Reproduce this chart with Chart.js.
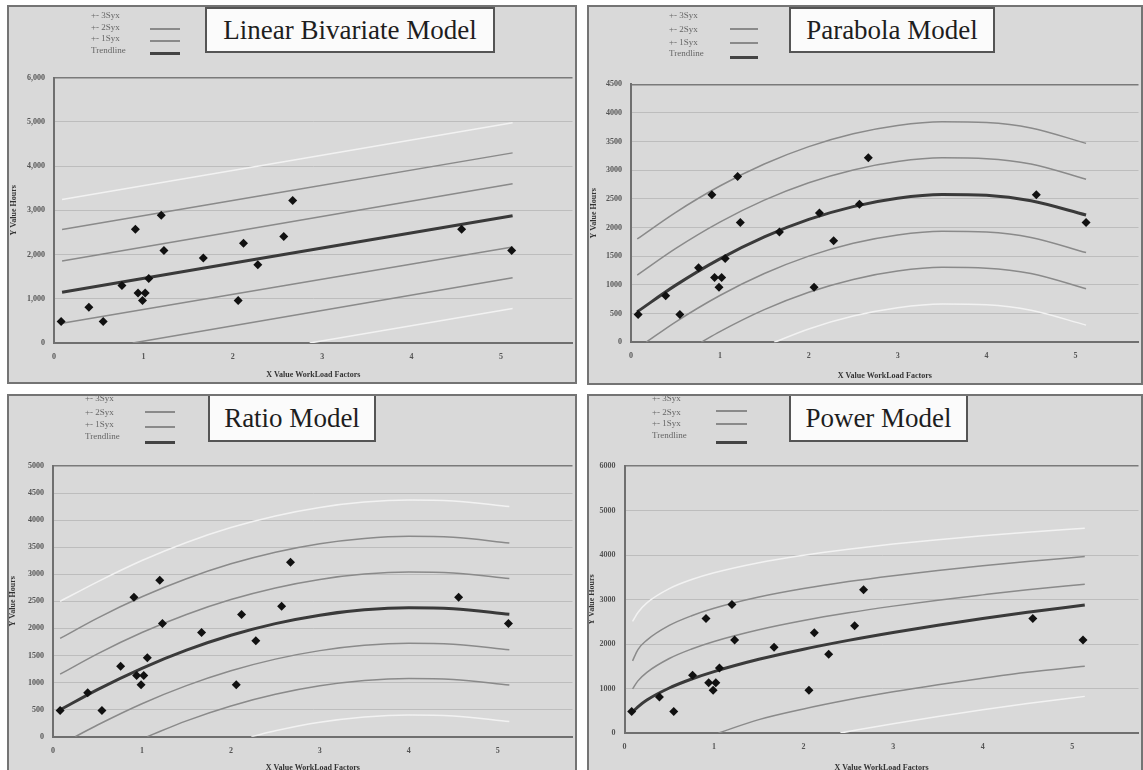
<!DOCTYPE html>
<html><head><meta charset="utf-8">
<script src="https://cdn.jsdelivr.net/npm/chart.js@4.4.0/dist/chart.umd.min.js"></script>
<style>
html,body{margin:0;padding:0;background:#fff;width:1143px;height:770px;overflow:hidden;font-family:"Liberation Serif","Times New Roman",serif}
.panel{position:absolute;overflow:hidden;background:#d9d9d9}
.panel canvas{position:absolute;left:0;top:0}
.frame{position:absolute;left:0;top:0;right:0;bottom:0;border:2px solid #747474;pointer-events:none}
.tbox{position:absolute;background:#fbfbfb;border:2px solid #555;box-sizing:border-box;font-size:27px;color:#1e1e1e;text-align:center;white-space:nowrap}
.leg{position:absolute;font-size:9px;color:#666;line-height:10px;white-space:nowrap}
.lsamp{position:absolute}
</style>
</head><body>
<script>
// ---------- shared data ----------
const xTickValues = [0, 1, 2, 3, 4, 5];
const xTickLabels = ['0', '1', '2', '3', '4', '5'];
const obsX = [0.08, 0.39, 0.55, 0.76, 0.91, 0.94, 1.02, 0.99, 1.06, 1.2, 1.23, 1.67, 2.06, 2.12, 2.28, 2.57, 2.67, 4.56, 5.12];
const obsY = [485, 810, 485, 1300, 2575, 1130, 1130, 960, 1460, 2890, 2090, 1925, 960, 2255, 1770, 2410, 3220, 2575, 2090];
const legendLabels = ['+- 3Syx', '+- 2Syx', '+- 1Syx', 'Trendline'];
const xTitle = 'X Value WorkLoad Factors';
const yTitle = 'Y Value Hours';

// ---------- Linear Bivariate Model ----------
const linTicksY = [0, 1000, 2000, 3000, 4000, 5000, 6000];
const linTickLabels = ['0', '1,000', '2,000', '3,000', '4,000', '5,000', '6,000'];
const linX = [0.09, 5.13];
const linTrend = [1147, 2880];
const linUp1 = [1855, 3600];
const linUp2 = [2567, 4300];
const linUp3 = [3247, 4980];
const linLo1 = [445, 2170];
const linLo2X = [0.88, 5.13];
const linLo2 = [0, 1475];
const linLo3X = [2.86, 5.13];
const linLo3 = [0, 780];

// ---------- Parabola Model ----------
const parTicksY = [0, 500, 1000, 1500, 2000, 2500, 3000, 3500, 4000, 4500];
const parTickLabels = ['0', '500', '1000', '1500', '2000', '2500', '3000', '3500', '4000', '4500'];
const parX = [0.07, 0.5, 1, 1.5, 2, 2.5, 3, 3.5, 4, 4.5, 5.12];
const parTrend = [532, 993, 1456, 1839, 2143, 2367, 2512, 2577, 2563, 2469, 2220];
const parUp1 = [1172, 1633, 2096, 2479, 2783, 3007, 3152, 3217, 3203, 3109, 2845];
const parUp2 = [1802, 2263, 2726, 3109, 3413, 3637, 3782, 3847, 3833, 3739, 3470];
const parLo1X = [0.17, 0.5, 1, 1.5, 2, 2.5, 3, 3.5, 4, 4.5, 5.12];
const parLo1 = [0, 353, 816, 1199, 1503, 1727, 1872, 1937, 1923, 1829, 1565];
const parLo2X = [0.79, 1, 1.5, 2, 2.5, 3, 3.5, 4, 4.5, 5.12];
const parLo2 = [0, 186, 569, 873, 1097, 1242, 1307, 1293, 1199, 935];
const parLo3X = [1.61, 2, 2.5, 3, 3.5, 4, 4.5, 5.12];
const parLo3 = [0, 233, 457, 602, 667, 653, 559, 300];

// ---------- Ratio Model ----------
const ratTicksY = [0, 500, 1000, 1500, 2000, 2500, 3000, 3500, 4000, 4500, 5000];
const ratTickLabels = ['0', '500', '1000', '1500', '2000', '2500', '3000', '3500', '4000', '4500', '5000'];
const ratX = [0.08, 0.5, 1, 1.5, 2, 2.5, 3, 3.5, 4, 4.5, 5.13];
const ratTrend = [495, 871, 1264, 1598, 1873, 2088, 2245, 2343, 2382, 2362, 2260];
const ratUp1 = [1155, 1531, 1924, 2258, 2533, 2748, 2905, 3003, 3042, 3022, 2920];
const ratUp2 = [1815, 2191, 2584, 2918, 3193, 3408, 3565, 3663, 3702, 3682, 3580];
const ratUp3 = [2500, 2861, 3254, 3588, 3863, 4078, 4235, 4333, 4372, 4352, 4250];
const ratLo1X = [0.25, 0.5, 1, 1.5, 2, 2.5, 3, 3.5, 4, 4.5, 5.13];
const ratLo1 = [0, 216, 609, 943, 1218, 1433, 1590, 1688, 1727, 1707, 1605];
const ratLo2X = [1.06, 1.5, 2, 2.5, 3, 3.5, 4, 4.5, 5.13];
const ratLo2 = [0, 293, 568, 783, 940, 1038, 1077, 1057, 955];
const ratLo3X = [2.23, 2.5, 3, 3.5, 4, 4.5, 5.13];
const ratLo3 = [0, 108, 265, 363, 402, 382, 280];

// ---------- Power Model ----------
const powTicksY = [0, 1000, 2000, 3000, 4000, 5000, 6000];
const powTickLabels = ['0', '1000', '2000', '3000', '4000', '5000', '6000'];
const powX = [0.09, 0.15, 0.25, 0.5, 0.75, 1, 1.5, 2, 2.5, 3, 3.5, 4, 4.5, 5.14];
const powTrend = [468, 589, 741, 1011, 1213, 1380, 1656, 1884, 2082, 2260, 2422, 2571, 2711, 2878];
const powUp1 = [990, 1171, 1363, 1674, 1888, 2057, 2320, 2528, 2701, 2851, 2985, 3104, 3217, 3343];
const powUp2 = [1620, 1875, 2088, 2418, 2636, 2802, 3054, 3245, 3402, 3536, 3654, 3758, 3855, 3966];
const powUp3 = [2509, 2708, 2924, 3244, 3448, 3600, 3827, 3996, 4130, 4245, 4345, 4432, 4511, 4600];
const powLo1X = [1.05, 1.5, 2, 2.5, 3, 3.5, 4, 4.5, 5.14];
const powLo1 = [0, 300, 540, 745, 925, 1085, 1230, 1365, 1500];
const powLo3X = [2.41, 3, 3.5, 4, 4.5, 5.14];
const powLo3 = [0, 210, 372, 521, 661, 823];

// ---------- styles ----------
const SERIF = '"Liberation Serif", "Times New Roman", serif';
const C_TREND = '#3a3a3a', C_GRAY = '#8a8a8a', C_WHITE = '#f2f2f2';

function pts(xs, ys) { return xs.map((x, i) => ({ x: x, y: ys[i] })); }
function curve(xs, ys, color, w) {
  return { type: 'scatter', data: pts(xs, ys), showLine: true, borderColor: color, borderWidth: w,
    pointRadius: 0, fill: false, cubicInterpolationMode: 'monotone' };
}

function makePanel(p) {
  const [bx, by, bw, bh] = p.box;
  const div = document.createElement('div');
  div.className = 'panel';
  Object.assign(div.style, { left: bx + 'px', top: by + 'px', width: bw + 'px', height: bh + 'px' });
  const cv = document.createElement('canvas');
  cv.width = bw; cv.height = bh;
  cv.style.width = bw + 'px'; cv.style.height = bh + 'px';
  div.appendChild(cv);

  const t = document.createElement('div');
  t.className = 'tbox';
  Object.assign(t.style, { left: p.tbox[0] + 'px', top: p.tbox[1] + 'px', width: p.tbox[2] + 'px', height: p.tbox[3] + 'px', lineHeight: (p.tbox[3] - 4) + 'px' });
  t.textContent = p.title;
  div.appendChild(t);

  legendLabels.forEach((lab, i) => {
    const l = document.createElement('div');
    l.className = 'leg';
    l.style.left = p.legX + 'px';
    l.style.top = (p.legRows[i] - 5) + 'px';
    l.textContent = lab;
    div.appendChild(l);
  });
  p.legLines.forEach((y, i) => {
    const s = document.createElement('div');
    s.className = 'lsamp';
    const dark = i === 2;
    Object.assign(s.style, { left: p.legLineX[0] + 'px', width: (p.legLineX[1] - p.legLineX[0]) + 'px',
      top: (y - (dark ? 1.5 : 1)) + 'px', height: (dark ? 3 : 2) + 'px', background: dark ? '#444' : C_GRAY });
    div.appendChild(s);
  });

  const fr = document.createElement('div');
  fr.className = 'frame';
  div.appendChild(fr);
  document.body.appendChild(div);

  const [L, T, R, B] = p.area;
  const ymax = p.yTicks[p.yTicks.length - 1];
  const datasets = [
    { type: 'scatter', data: pts(obsX, obsY), pointStyle: 'rectRot', pointRadius: 4.5,
      pointBackgroundColor: '#111', pointBorderColor: '#111', pointBorderWidth: 0, showLine: false },
    ...p.lines
  ];
  new Chart(cv, {
    type: 'scatter',
    data: { datasets: datasets },
    options: {
      responsive: false, animation: false, devicePixelRatio: 1,
      layout: { padding: { top: T, right: bw - R, left: 0, bottom: 0 } },
      plugins: { legend: { display: false }, tooltip: { enabled: false } },
      scales: {
        x: {
          type: 'linear', min: 0, max: p.xmax,
          afterBuildTicks: a => { a.ticks = xTickValues.map(v => ({ value: v })); },
          afterFit: s => { s.height = bh - B; },
          grid: { display: false, drawTicks: false },
          border: { color: '#6f6f6f', width: 2 },
          ticks: { padding: 9, color: '#555', font: { family: SERIF, size: 8, weight: 'bold' },
            callback: v => { const i = xTickValues.indexOf(v); return i >= 0 ? xTickLabels[i] : ''; } },
          title: { display: true, text: xTitle, color: '#333', font: { family: SERIF, size: 8, weight: 'bold' },
            padding: { top: 0, bottom: p.xTitlePad } }
        },
        y: {
          type: 'linear', min: 0, max: ymax,
          afterBuildTicks: a => { a.ticks = p.yTicks.map(v => ({ value: v })); },
          afterFit: s => { s.width = L; },
          grid: { drawTicks: false, color: c => (c.tick && c.tick.value === ymax) ? '#7a7a7a' : '#bdbdbd',
            lineWidth: c => (c.tick && c.tick.value === ymax) ? 1.5 : 1 },
          border: { color: '#6f6f6f', width: 2 },
          ticks: { padding: 9, color: '#555', font: { family: SERIF, size: 8, weight: 'bold' },
            callback: v => { const i = p.yTicks.indexOf(v); return i >= 0 ? p.yLabels[i] : ''; } },
          title: { display: true, text: yTitle, color: '#333', font: { family: SERIF, size: 8, weight: 'bold' },
            padding: { top: p.yTitlePad, bottom: 0 } }
        }
      }
    }
  });
}

makePanel({
  title: 'Linear Bivariate Model', box: [7, 5, 570, 379], area: [47, 72.7, 568, 338], xmax: 5.8,
  yTicks: linTicksY, yLabels: linTickLabels, xTitlePad: 4, yTitlePad: 2,
  tbox: [198, 2, 290, 46], legX: 84, legRows: [10, 22, 33, 45], legLineX: [143, 173], legLines: [24, 36, 48],
  lines: [
    curve(linX, linTrend, C_TREND, 3),
    curve(linX, linUp1, C_GRAY, 1.5), curve(linX, linUp2, C_GRAY, 1.5), curve(linX, linUp3, C_WHITE, 1.5),
    curve(linX, linLo1, C_GRAY, 1.5), curve(linLo2X, linLo2, C_GRAY, 1.5), curve(linLo3X, linLo3, C_WHITE, 1.5)
  ]
});
makePanel({
  title: 'Parabola Model', box: [587, 5, 556, 380], area: [44, 79.3, 556, 337.3], xmax: 5.71,
  yTicks: parTicksY, yLabels: parTickLabels, xTitlePad: 4, yTitlePad: 2,
  tbox: [202, 2, 206, 46], legX: 82, legRows: [10, 24, 37, 48], legLineX: [143, 171], legLines: [24, 38, 52],
  lines: [
    curve(parX, parTrend, C_TREND, 3),
    curve(parX, parUp1, C_GRAY, 1.5), curve(parX, parUp2, C_GRAY, 1.5),
    curve(parLo1X, parLo1, C_GRAY, 1.5), curve(parLo2X, parLo2, C_GRAY, 1.5), curve(parLo3X, parLo3, C_WHITE, 1.5)
  ]
});
makePanel({
  title: 'Ratio Model', box: [7, 394, 570, 381], area: [46, 72, 568, 342.7], xmax: 5.84,
  yTicks: ratTicksY, yLabels: ratTickLabels, xTitlePad: 2, yTitlePad: 1,
  tbox: [201, 0, 168, 48], legX: 78, legRows: [4, 18, 30, 42], legLineX: [138, 168], legLines: [18, 33, 48],
  lines: [
    curve(ratX, ratTrend, C_TREND, 3),
    curve(ratX, ratUp1, C_GRAY, 1.5), curve(ratX, ratUp2, C_GRAY, 1.5), curve(ratX, ratUp3, C_WHITE, 1.5),
    curve(ratLo1X, ratLo1, C_GRAY, 1.5), curve(ratLo2X, ratLo2, C_GRAY, 1.5), curve(ratLo3X, ratLo3, C_WHITE, 1.5)
  ]
});
makePanel({
  title: 'Power Model', box: [587, 394, 556, 381], area: [37.5, 72, 556, 339], xmax: 5.74,
  yTicks: powTicksY, yLabels: powTickLabels, xTitlePad: 2, yTitlePad: 0,
  tbox: [202, 0, 179, 48], legX: 65, legRows: [4, 18, 29, 41], legLineX: [129, 160], legLines: [17, 30, 48],
  lines: [
    curve(powX, powTrend, C_TREND, 3),
    curve(powX, powUp1, C_GRAY, 1.5), curve(powX, powUp2, C_GRAY, 1.5), curve(powX, powUp3, C_WHITE, 1.5),
    curve(powLo1X, powLo1, C_GRAY, 1.5), curve(powLo3X, powLo3, C_WHITE, 1.5)
  ]
});
</script>
</body></html>
